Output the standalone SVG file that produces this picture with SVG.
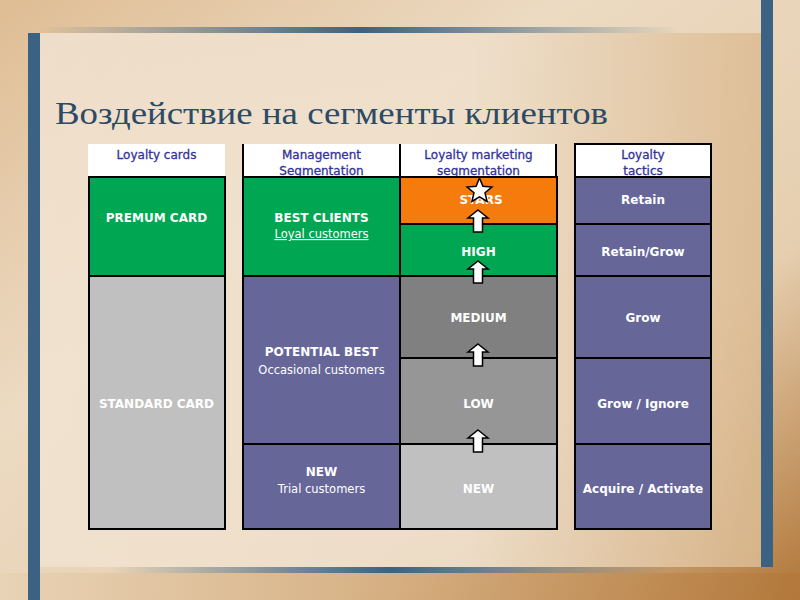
<svg xmlns="http://www.w3.org/2000/svg" width="800" height="600" viewBox="0 0 800 600">
<defs>
<linearGradient id="bg" x1="0" y1="0" x2="1" y2="1">
<stop offset="0" stop-color="#dfbd94"/>
<stop offset="0.35" stop-color="#ecdac2"/>
<stop offset="0.7" stop-color="#e6cfb0"/>
<stop offset="1" stop-color="#b07638"/>
</linearGradient>
<linearGradient id="panel" x1="0" y1="0" x2="1" y2="0">
<stop offset="0" stop-color="#f1e3d1"/>
<stop offset="0.6" stop-color="#efe0cc"/>
<stop offset="1" stop-color="#dcbb92"/>
</linearGradient>
<linearGradient id="bottom" x1="0" y1="0" x2="1" y2="0">
<stop offset="0" stop-color="#e8d2b4"/>
<stop offset="0.5" stop-color="#d2a878"/>
<stop offset="1" stop-color="#b3783a"/>
</linearGradient>
<linearGradient id="line" x1="0" y1="0" x2="1" y2="0">
<stop offset="0" stop-color="#3b6282" stop-opacity="0"/>
<stop offset="0.5" stop-color="#3b6282" stop-opacity="1"/>
<stop offset="1" stop-color="#3b6282" stop-opacity="0"/>
</linearGradient>
<polygon id="arrow" points="0,0 10,8 4.5,8 4.5,22 -4.5,22 -4.5,8 -10,8"/>
</defs>
<style>
.cell{stroke:#000;stroke-width:2}
.hdr{font-family:"DejaVu Sans",Verdana,sans-serif;font-size:12px;fill:#333399;stroke:#333399;stroke-width:0.3;text-anchor:middle}
.b{font-family:"DejaVu Sans",Verdana,sans-serif;font-size:12px;font-weight:bold;fill:#fff;text-anchor:middle}
.r{font-family:"DejaVu Sans",Verdana,sans-serif;font-size:11.5px;fill:#fff;text-anchor:middle}
.arr{fill:#fff;stroke:#000;stroke-width:1.5;stroke-linejoin:miter}
.bar{fill:#3b6282}
.green{fill:#00a651}
.purple{fill:#666699}
.orange{fill:#f57b0c}
</style>
<!-- background -->
<rect x="0" y="0" width="800" height="600" fill="url(#bg)"/>
<rect x="40" y="33" width="721" height="534" fill="url(#panel)" opacity="0.85"/>
<rect x="0" y="573" width="800" height="27" fill="url(#bottom)" opacity="0.8"/>
<rect x="40" y="27" width="640" height="6" fill="url(#line)"/>
<rect x="110" y="567" width="560" height="6" fill="url(#line)"/>
<rect class="bar" x="28" y="33" width="12" height="567"/>
<rect class="bar" x="761" y="0" width="12" height="567"/>
<text x="55" y="124" font-family="Liberation Serif, serif" font-size="32" fill="#2c4a66" textLength="553" lengthAdjust="spacingAndGlyphs">Воздействие на сегменты клиентов</text>

<!-- headers -->
<g id="hdr1">
<rect x="88" y="144" width="137" height="33" fill="#fff"/>
<text class="hdr" x="156.5" y="158.5">Loyalty cards</text>
</g>
<g id="hdr2">
<rect x="243" y="144" width="157" height="33" fill="#fff"/>
<line x1="243" y1="144" x2="243" y2="177" stroke="#000" stroke-width="2"/>
<text class="hdr" x="321.5" y="158.5">Management</text>
<text class="hdr" x="321.5" y="175">Segmentation</text>
</g>
<g id="hdr3">
<rect x="400" y="144" width="157" height="33" fill="#fff"/>
<line x1="400" y1="144" x2="400" y2="177" stroke="#000" stroke-width="2"/>
<line x1="556" y1="144" x2="556" y2="177" stroke="#000" stroke-width="2"/>
<text class="hdr" x="478.5" y="158.5">Loyalty marketing</text>
<text class="hdr" x="478.5" y="175">segmentation</text>
</g>
<g id="hdr4">
<rect class="cell" x="575" y="144" width="136" height="33" fill="#fff"/>
<text class="hdr" x="643" y="158.5">Loyalty</text>
<text class="hdr" x="643" y="175">tactics</text>
</g>

<!-- column 1 -->
<g id="premium">
<rect class="cell green" x="89" y="177" width="136" height="99"/>
<text class="b" x="156.5" y="222">PREMUM CARD</text>
</g>
<g id="standard">
<rect class="cell" x="89" y="276" width="136" height="253" fill="#c0c0c0"/>
<text class="b" x="156.5" y="408">STANDARD CARD</text>
</g>

<!-- column 2 -->
<g id="best">
<rect class="cell green" x="243" y="177" width="157" height="99"/>
<text class="b" x="321.5" y="222">BEST CLIENTS</text>
<text class="r" x="321.5" y="238" text-decoration="underline">Loyal customers</text>
</g>
<g id="potential">
<rect class="cell purple" x="243" y="276" width="157" height="168"/>
<text class="b" x="321.5" y="356">POTENTIAL BEST</text>
<text class="r" x="321.5" y="374">Occasional customers</text>
</g>
<g id="new2">
<rect class="cell purple" x="243" y="444" width="157" height="85"/>
<text class="b" x="321.5" y="476">NEW</text>
<text class="r" x="321.5" y="493">Trial customers</text>
</g>

<!-- column 3 -->
<g id="stars">
<rect class="cell orange" x="400" y="177" width="157" height="47"/>
<text class="b" x="481" y="204">STARS</text>
<polygon points="479.5,178 482.9,186.3 491.9,187 485,192.8 487.1,201.5 479.5,196.8 471.9,201.5 474,192.8 467.1,187 476.1,186.3" fill="#fff" stroke="#000" stroke-width="1.5"/>
</g>
<g id="high">
<rect class="cell green" x="400" y="224" width="157" height="52"/>
<text class="b" x="478.5" y="256">HIGH</text>
</g>
<g id="medium">
<rect class="cell" x="400" y="276" width="157" height="82" fill="#808080"/>
<text class="b" x="478.5" y="322">MEDIUM</text>
</g>
<g id="low">
<rect class="cell" x="400" y="358" width="157" height="86" fill="#969696"/>
<text class="b" x="478.5" y="408">LOW</text>
</g>
<g id="new3">
<rect class="cell" x="400" y="444" width="157" height="85" fill="#c0c0c0"/>
<text class="b" x="478.5" y="493">NEW</text>
</g>

<!-- column 4 -->
<g id="retain">
<rect class="cell purple" x="575" y="177" width="136" height="47"/>
<text class="b" x="643" y="204">Retain</text>
</g>
<g id="retaingrow">
<rect class="cell purple" x="575" y="224" width="136" height="52"/>
<text class="b" x="643" y="256">Retain/Grow</text>
</g>
<g id="grow">
<rect class="cell purple" x="575" y="276" width="136" height="82"/>
<text class="b" x="643" y="322">Grow</text>
</g>
<g id="growignore">
<rect class="cell purple" x="575" y="358" width="136" height="86"/>
<text class="b" x="643" y="408">Grow / Ignore</text>
</g>
<g id="acquire">
<rect class="cell purple" x="575" y="444" width="136" height="85"/>
<text class="b" x="643" y="493">Acquire / Activate</text>
</g>

<!-- connectors -->
<g id="connectors">
<use href="#arrow" class="arr" x="478" y="210"/>
<use href="#arrow" class="arr" x="478" y="261"/>
<use href="#arrow" class="arr" x="478" y="344"/>
<use href="#arrow" class="arr" x="478" y="430"/>
</g>
</svg>
